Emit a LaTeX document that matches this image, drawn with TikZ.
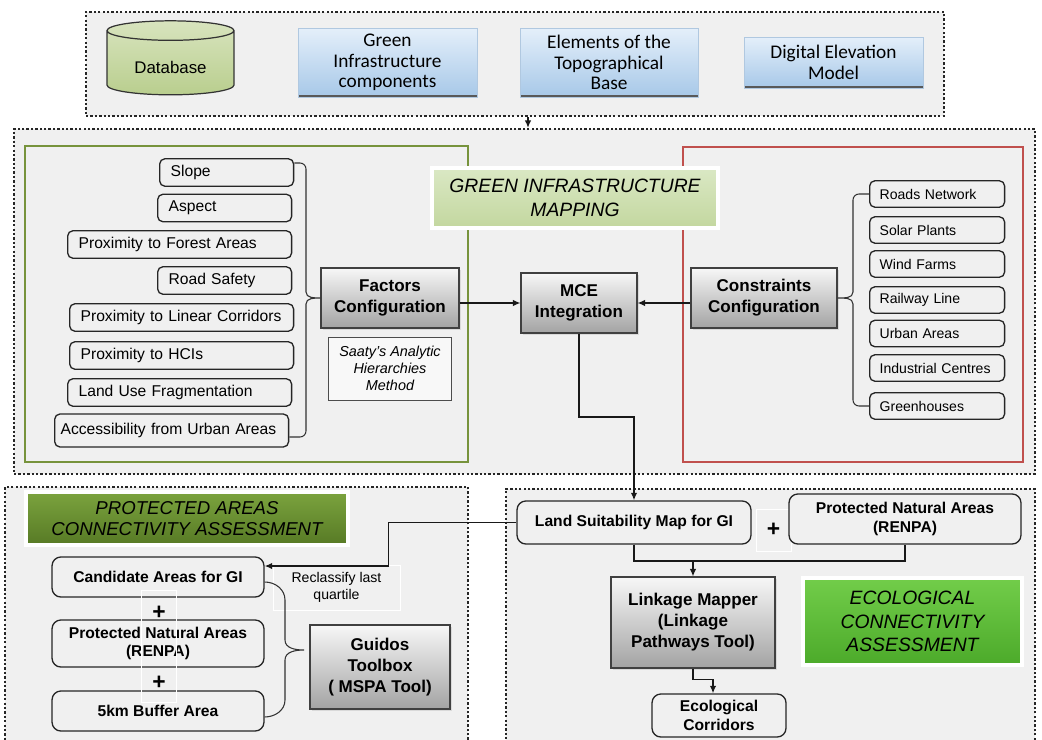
\documentclass[tikz,border=0pt]{standalone}
\usepackage{fontspec}
\setmainfont{Liberation Sans}
\newfontfamily\calib{Carlito}
\usepackage{tikz}
\usetikzlibrary{arrows.meta,positioning,shapes.geometric,shadows}
\definecolor{GIBack}{HTML}{F0F0F0}
\definecolor{GIGreenLine}{HTML}{77933C}
\definecolor{GIRedLine}{HTML}{C0504D}
\definecolor{GIBlueTop}{HTML}{E4EFFA}
\definecolor{GIBlueBot}{HTML}{A7C8E8}
\definecolor{GIBlueEdge}{HTML}{B0C8E0}
\definecolor{GIDbTop}{HTML}{D8E4BE}
\definecolor{GIDbBot}{HTML}{B9CE8E}
\definecolor{GIGrayTop}{HTML}{F7F7F7}
\definecolor{GIGrayBot}{HTML}{A3A3A3}
\definecolor{GIPaleTop}{HTML}{DAE8C4}
\definecolor{GIPaleBot}{HTML}{C3D79F}
\definecolor{GIOliveTop}{HTML}{7BA33E}
\definecolor{GIOliveBot}{HTML}{577A25}
\definecolor{GIBrightTop}{HTML}{72CD4A}
\definecolor{GIBrightBot}{HTML}{4CAA2A}
\newcommand{\fItem}{\fontsize{8.9}{10.5}\selectfont}
\newcommand{\fCons}{\fontsize{8}{9.6}\selectfont}
\newcommand{\fBold}{\fontsize{9.7}{12}\selectfont\bfseries}
\newcommand{\fSmallBold}{\fontsize{8.9}{10.6}\selectfont\bfseries}
\newcommand{\fTitle}{\fontsize{11}{13.4}\selectfont\itshape}
\newcommand{\fInput}{\fontsize{11}{11.8}\selectfont\calib}
\newcommand{\fSaaty}{\fontsize{8.2}{9.9}\selectfont\itshape}
\hyphenpenalty=10000

\begin{document}
\begin{tikzpicture}[
        x=0.02cm, y=-0.02cm,
        every node/.style={font=\fItem, inner sep=0pt},
        frame/.style={draw=black!85, line width=1.3pt, dash pattern=on 1.3pt off 1.2pt, fill=GIBack},
        panel/.style={draw=#1, line width=1.1pt, fill=GIBack},
        inputbox/.style={top color=GIBlueTop, bottom color=GIBlueBot, draw=GIBlueEdge, align=center, font=\fInput,
          path picture={\draw[line width=2.2pt, black!65] (path picture bounding box.south west) -- (path picture bounding box.south east);}},
        factor/.style={draw=black!85, line width=0.75pt, rounded corners=3pt, fill=GIBack, align=left, inner xsep=0.22cm, text width=#1, minimum height=0.55cm, anchor=west},
        constraint/.style={factor=#1, font=\fCons, inner xsep=0.2cm, minimum height=0.53cm},
        config/.style={draw=black!75, line width=0.6pt, top color=GIGrayTop, bottom color=GIGrayBot, align=center, font=\fBold, drop shadow={opacity=0.2, shadow xshift=1pt, shadow yshift=-1pt}},
        result/.style={draw=black!85, line width=0.75pt, rounded corners=5pt, fill=GIBack, align=center, font=\fSmallBold},
        title/.style={draw=white, line width=2pt, align=center, font=\fTitle, drop shadow={opacity=0.25, shadow xshift=1pt, shadow yshift=-1pt}},
        note/.style={draw=white, line width=0.4pt, align=center, font=\fCons},
        plus/.style={font=\fontsize{13}{13}\selectfont\bfseries},
        link/.style={line width=0.8pt, draw=black!90},
        arrow/.style={link, -{Latex[length=1.5mm,width=1.3mm]}},
        brace/.style={line width=0.6pt, draw=black!80}
      ]
      \useasboundingbox (0,0) rectangle (1042,740);

      \node[frame, minimum width=17.16cm, minimum height=2.08cm] (inputs) at (515,64) {};
      \node[cylinder, shape border rotate=90, aspect=0.27, draw=black!80, line width=0.7pt, top color=GIDbTop, bottom color=GIDbBot,
        minimum width=2.54cm, minimum height=1.48cm, font=\fontsize{9.6}{11}\selectfont] (db) at (170.5,63) {\raisebox{-0.22cm}[0pt][0pt]{Database}};
      \node[inputbox, minimum width=3.58cm, minimum height=1.38cm] (gic) at (387.5,62.5) {Green\\Infrastructure\\components};
      \node[inputbox, minimum width=3.56cm, minimum height=1.38cm] (topo) at (609,62.5) {Elements of the\\Topographical\\Base};
      \node[inputbox, minimum width=3.58cm, minimum height=1.02cm] (dem) at (833.5,62.5) {Digital Elevation\\Model};

      \node[frame, minimum width=20.42cm, minimum height=6.9cm] (mapping) at (524.5,301.5) {};
      \node[panel=GIGreenLine, minimum width=8.86cm, minimum height=6.32cm] (factorpanel) at (246.5,304) {};
      \node[panel=GIRedLine, minimum width=6.8cm, minimum height=6.3cm] (constraintpanel) at (853,304.5) {};
      \node[title, top color=GIPaleTop, bottom color=GIPaleBot, minimum width=5.72cm, minimum height=1.2cm] (gimtitle) at (575,198) {GREEN INFRASTRUCTURE\\MAPPING};

      \node[factor=2.24cm] (slope) at (159,172.5) {Slope};
      \node[factor=2.24cm] (aspect) at (157,208) {Aspect};
      \node[factor=4.04cm] (forest) at (67,244.5) {Proximity to Forest Areas};
      \node[factor=2.24cm] (roadsafety) at (157,280.5) {Road Safety};
      \node[factor=4.04cm] (linear) at (69,317.5) {Proximity to Linear Corridors};
      \node[factor=4.04cm] (hci) at (69,355.5) {Proximity to HCIs};
      \node[factor=4.04cm] (landuse) at (67,392.5) {Land Use Fragmentation};
      \node[factor=4.44cm, inner xsep=0.12cm, minimum height=0.66cm] (access) at (54,430.5) {Accessibility from Urban Areas};

      \node[config, minimum width=2.76cm, minimum height=1.2cm] (factors) at (390,298) {Factors\\Configuration};
      \node[draw=black!70, line width=0.5pt, fill=white!55!GIBack, minimum width=2.46cm, minimum height=1.26cm, align=center, font=\fSaaty, below=0.16cm of factors] (saaty) {Saaty's Analytic\\Hierarchies\\Method};
      \node[config, minimum width=2.32cm, minimum height=1.2cm] (mce) at (579,303) {MCE\\Integration};
      \node[config, minimum width=2.92cm, minimum height=1.2cm] (constraints) at (764,298) {Constraints\\Configuration};

      \node[constraint=2.3cm] (roads) at (869,194) {Roads Network};
      \node[constraint=2.3cm] (solar) at (869,230) {Solar Plants};
      \node[constraint=2.3cm] (wind) at (869,264) {Wind Farms};
      \node[constraint=2.3cm] (railway) at (869,300) {Railway Line};
      \node[constraint=2.3cm] (urban) at (869,333.5) {Urban Areas};
      \node[constraint=2.3cm] (industrial) at (869,368) {Industrial Centres};
      \node[constraint=2.3cm] (greenhouses) at (869,406) {Greenhouses};

      \node[frame, minimum width=9.26cm, minimum height=5.46cm] (pacframe) at (236.5,623.5) {};
      \node[frame, minimum width=10.58cm, minimum height=5.42cm] (ecaframe) at (770.5,624.5) {};

      \node[title, top color=GIOliveTop, bottom color=GIOliveBot, minimum width=6.44cm, minimum height=1.06cm, font=\fontsize{10.6}{12.4}\selectfont\itshape] (pactitle) at (187,518.5) {PROTECTED AREAS\\CONNECTIVITY ASSESSMENT};
      \node[result, minimum width=4.24cm, minimum height=0.8cm] (cand) at (158,577) {Candidate Areas for GI};
      \node[plus] (plusa) at (159,613) {+};
      \node[result, minimum width=4.24cm, minimum height=0.94cm] (renpaa) at (158,643.5) {Protected Natural Areas\\(RENPA)};
      \node[plus] (plusb) at (159,683) {+};
      \node[result, minimum width=4.24cm, minimum height=0.8cm] (buffer) at (158,711) {5km Buffer Area};
      \draw[white, line width=0.4pt] (141,590) rectangle (176,702);
      \node[config, minimum width=2.8cm, minimum height=1.68cm] (guidos) at (380,667) {Guidos\\Toolbox\\( MSPA Tool)};
      \node[note, minimum width=2.54cm, minimum height=0.9cm] (reclass) at (336.5,587.5) {Reclassify last\\quartile};

      \node[result, minimum width=4.68cm, minimum height=0.86cm] (land) at (634,522.5) {Land Suitability Map for GI};
      \node[plus, draw=white, line width=0.4pt, minimum width=0.7cm, minimum height=0.84cm] (plusc) at (773.5,530) {+};
      \node[result, minimum width=4.64cm, minimum height=1.0cm] (renpab) at (905,519) {Protected Natural Areas\\(RENPA)};
      \node[config, minimum width=3.28cm, minimum height=1.82cm] (linkage) at (693,622.5) {Linkage Mapper\\(Linkage\\Pathways Tool)};
      \node[title, top color=GIBrightTop, bottom color=GIBrightBot, minimum width=4.38cm, minimum height=1.74cm] (ecatitle) at (912.5,621.5) {ECOLOGICAL\\CONNECTIVITY\\ASSESSMENT};
      \node[result, minimum width=2.68cm, minimum height=0.86cm] (corridors) at (719,715.5) {Ecological\\Corridors};

      \coordinate (bend) at (634,417);
      \coordinate (join) at (693,561);

      \draw[arrow] ([xshift=0.26cm]inputs.south) -- ([xshift=0.26cm]inputs.south |- mapping.north);
      \draw[brace] ([yshift=0.19cm]slope.east) -- (300,163) to[out=0,in=90] (306,169) -- (306,292) to[out=-90,in=180] (factors.west)
        to[out=180,in=90] (306,304) -- (306,431) to[out=-90,in=0] (300,437) -- ([yshift=-0.13cm]access.east);
      \draw[brace] (roads.west) -- (859,194) to[out=180,in=90] (853,200) -- (853,292) to[out=-90,in=0] (constraints.east)
        to[out=0,in=90] (853,304) -- (853,400) to[out=-90,in=180] (859,406) -- (greenhouses.west);
      \draw[arrow] (factors.east |- mce) -- (mce.west);
      \draw[arrow] (constraints.west |- mce) -- (mce.east);
      \draw[arrow] (mce.south) |- (bend) -- (land.north);
      \draw[arrow] (land.west) -- ++(-128,0) |- ([yshift=0.22cm]cand.east);
      \draw[brace] ([yshift=-0.1cm]cand.east) to[out=0,in=90] (285,600) -- (285,640) to[out=-90,in=180] (304,650)
        to[out=180,in=90] (285,660) -- (285,700) to[out=-90,in=0] ([yshift=-0.12cm]buffer.east);
      \draw[link] (land.south) |- (join) -| (renpab.south);
      \draw[arrow] (join) -- (linkage.north);
      \draw[arrow] (linkage.south) -- ++(0,11) -| ([xshift=-0.12cm]corridors.north);
    \end{tikzpicture}
\end{document}
